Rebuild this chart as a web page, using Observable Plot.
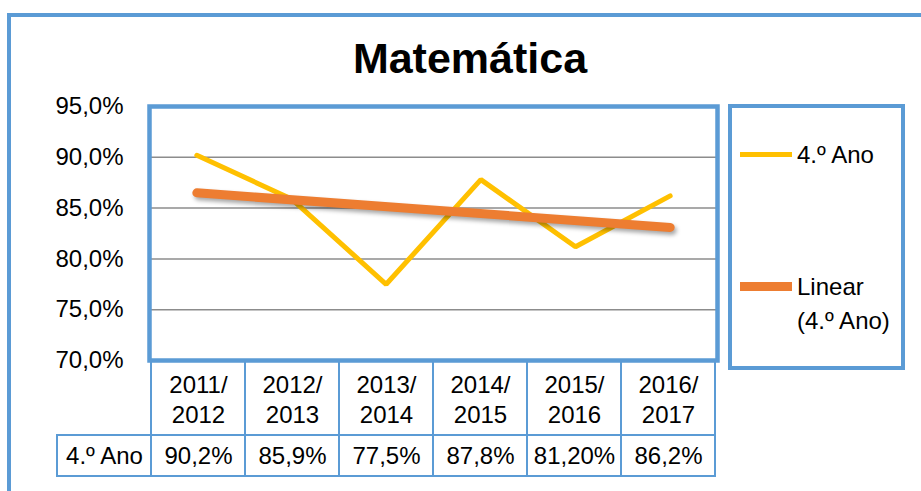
<!DOCTYPE html>
<html>
<head>
<meta charset="utf-8">
<script src="https://cdn.jsdelivr.net/npm/d3@7"></script>
<script src="https://cdn.jsdelivr.net/npm/@observablehq/plot@0.6"></script>
<style>
  html, body { margin: 0; padding: 0; background: #fff; }
  #wrap { position: relative; width: 921px; height: 491px; overflow: hidden; background: #fff;
          font-family: "Liberation Sans", Arial, sans-serif; color: #000; }
  #outer { position: absolute; left: 7px; top: 13px; width: 1200px; height: 1200px;
           border: 4px solid #5b9bd5; box-sizing: border-box; }
  #title { position: absolute; left: 0; width: 940px; top: 33px; text-align: center;
           font-size: 43px; font-weight: bold; line-height: 50px; }
  .layer { position: absolute; left: 0; }
  #legend { position: absolute; left: 728px; top: 104px; width: 177px; height: 266px;
            border: 4.5px solid #5b9bd5; box-sizing: border-box; background: #fff; }
  .sw { position: absolute; left: 8px; width: 52px; }
  .lt { position: absolute; left: 65px; font-size: 24px; line-height: 34px; white-space: pre; }
</style>
</head>
<body>
<div id="wrap">
  <div id="outer"></div>
  <div id="main" class="layer" style="top:0"></div>
  <div id="head" class="layer" style="top:360px"></div>
  <div id="vals" class="layer" style="top:435px"></div>
  <div id="legend"></div>
  <div id="title"></div>
</div>
<script>
// ---- data ----
const chartTitle = "Matemática";
const categories = ["2011/2012", "2012/2013", "2013/2014", "2014/2015", "2015/2016", "2016/2017"];
const values = [90.2, 85.9, 77.5, 87.8, 81.2, 86.2];
const valueLabels = ["90,2%", "85,9%", "77,5%", "87,8%", "81,20%", "86,2%"];
const seriesName = "4.º Ano";
const trendName = "Linear\n(4.º Ano)";
const yTicks = [70, 75, 80, 85, 90, 95];

const blue = "#5b9bd5", yellow = "#ffc000", orange = "#ed7d31";
const rows = values.map((v, i) => ({i: i + 1, v, cat: categories[i], label: valueLabels[i]}));

document.getElementById("title").textContent = chartTitle;

const baseStyle = {background: "transparent", overflow: "visible", fontFamily: "Liberation Sans, Arial, sans-serif", fontSize: "24px", color: "#000"};

// ---- main chart ----
const main = Plot.plot({
  width: 921, height: 362,
  marginTop: 106, marginBottom: 2, marginLeft: 149, marginRight: 204,
  style: baseStyle,
  x: {type: "linear", domain: [0.5, categories.length + 0.5], axis: null},
  y: {domain: [70, 95], ticks: yTicks, label: null},
  marks: [
    Plot.gridY(yTicks, {stroke: "#8c8c8c", strokeOpacity: 1, strokeWidth: 1.5}),
    Plot.axisY(yTicks, {tickSize: 0, tickPadding: 26, fontSize: 24, fill: "#000", label: null,
      tickFormat: d => d.toFixed(1).replace(".", ",") + "%"}),
    Plot.line(rows, {x: "i", y: "v", stroke: yellow, strokeWidth: 5, strokeLinejoin: "miter"}),
    Plot.linearRegressionY(rows, {x: "i", y: "v", stroke: orange, strokeWidth: 9, ci: 0, strokeOpacity: 1}),
    Plot.frame({stroke: blue, strokeWidth: 4.5})
  ]
});
main.querySelectorAll(`[stroke="${orange}"]`).forEach(el => el.style.filter = "drop-shadow(2px 3px 2px rgba(0,0,0,0.35))");
document.getElementById("main").appendChild(main);

// ---- data table ----
const labelKey = "\u0000label";
const colDomain = [labelKey, ...categories];
const colW = (717 - 149) / categories.length;
const tableX = {type: "band", domain: colDomain, range: [149 - colW, 717], padding: 0, axis: null};

const head = Plot.plot({
  width: 921, height: 75, margin: 0,
  style: baseStyle,
  x: tableX,
  marks: [
    Plot.cell(categories, {x: d => d, fill: "none", stroke: blue, strokeWidth: 2}),
    Plot.text(categories, {x: d => d, text: d => d.replace("/", "/\n"), fontSize: 24, lineHeight: 1.25, fill: "#000", frameAnchor: "middle"})
  ]
});
document.getElementById("head").appendChild(head);

const valRow = [{k: labelKey, t: seriesName}, ...rows.map(r => ({k: r.cat, t: r.label}))];
const vals = Plot.plot({
  width: 921, height: 41, margin: 0,
  style: baseStyle,
  x: tableX,
  marks: [
    Plot.cell(valRow, {x: "k", fill: "none", stroke: blue, strokeWidth: 2}),
    Plot.text(valRow, {x: "k", text: "t", fontSize: 24, fill: "#000", frameAnchor: "middle"})
  ]
});
document.getElementById("vals").appendChild(vals);

// ---- legend ----
const legend = document.getElementById("legend");
const items = [
  {name: seriesName, color: yellow, thick: 5, top: 51},
  {name: trendName, color: orange, thick: 9, top: 183}
];
for (const it of items) {
  const sw = document.createElement("div");
  sw.className = "sw";
  sw.style.background = it.color;
  sw.style.height = it.thick + "px";
  sw.style.top = (it.top - it.thick / 2 - 4.5) + "px";
  legend.appendChild(sw);
  const t = document.createElement("div");
  t.className = "lt";
  t.textContent = it.name;
  t.style.top = (it.top - 17 - 4.5) + "px";
  legend.appendChild(t);
}
</script>
</body>
</html>
